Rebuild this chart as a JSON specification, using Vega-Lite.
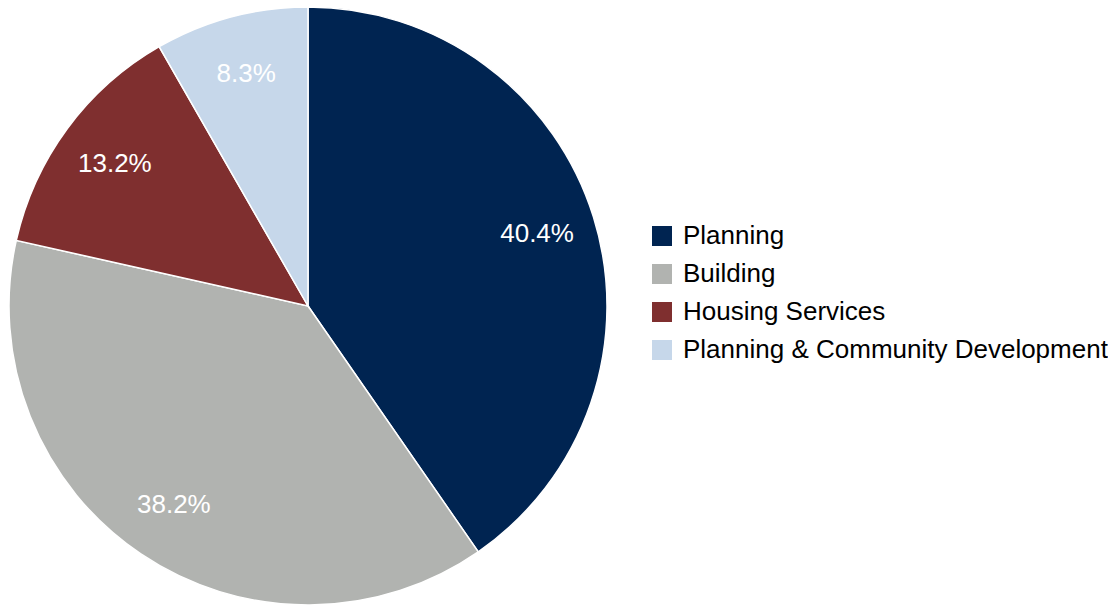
{
  "$schema": "https://vega.github.io/schema/vega-lite/v6.json",
  "width": 616,
  "height": 612,
  "padding": 0,
  "autosize": {"type": "pad"},
  "background": "white",
  "config": {"view": {"stroke": null}, "font": "Liberation Sans"},
  "data": {"values": [
    {"category": "Planning", "value": 40.4, "label": "40.4%", "ord": 1},
    {"category": "Building", "value": 38.2, "label": "38.2%", "ord": 2},
    {"category": "Housing Services", "value": 13.2, "label": "13.2%", "ord": 3},
    {"category": "Planning & Community Development", "value": 8.3, "label": "8.3%", "ord": 4}
  ]},
  "encoding": {
    "theta": {"field": "value", "type": "quantitative", "stack": true},
    "order": {"field": "ord", "type": "quantitative"},
    "color": {
      "field": "category", "type": "nominal",
      "scale": {
        "domain": ["Planning", "Building", "Housing Services", "Planning & Community Development"],
        "range": ["#002451", "#b1b3b0", "#7f2f2f", "#c6d7ea"]
      },
      "legend": {
        "title": null, "orient": "none", "legendX": 649, "legendY": 223,
        "symbolType": "square", "symbolSize": 400, "symbolStrokeWidth": 0,
        "labelFontSize": 26, "labelFont": "Liberation Sans", "labelColor": "#000000",
        "rowPadding": 12, "labelOffset": 8, "padding": 0, "labelLimit": 600
      }
    }
  },
  "layer": [
    {"mark": {"type": "arc", "outerRadius": 299, "stroke": "white", "strokeWidth": 1.5}},
    {"mark": {"type": "text", "radius": 240, "fontSize": 26, "font": "Liberation Sans", "fill": "white"},
     "encoding": {"text": {"field": "label", "type": "nominal"}, "color": {"value": "white"}}}
  ]
}
